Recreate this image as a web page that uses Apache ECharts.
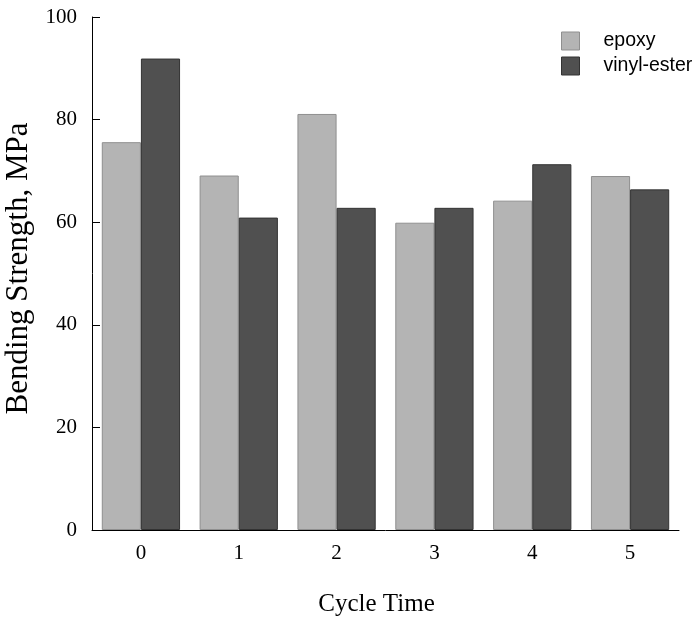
<!DOCTYPE html>
<html>
<head>
<meta charset="utf-8">
<script src="https://cdn.jsdelivr.net/npm/echarts@6/dist/echarts.min.js"></script>
<style>html,body{margin:0;padding:0;background:#fff}#c{width:694px;height:621px}</style>
</head>
<body>
<div id="c"></div>
<script>
const categories = ['0', '1', '2', '3', '4', '5'];
const epoxy = [75.6, 69.1, 81.1, 59.9, 64.2, 69.0];
const vinylEster = [91.9, 60.9, 62.8, 62.8, 71.3, 66.4];
const yTicks = { min: 0, max: 100, interval: 20 };

const serif = '"Liberation Serif", "Times New Roman", serif';
const chart = echarts.init(document.getElementById('c'), null, { renderer: 'canvas' });
chart.setOption({
  animation: false,
  backgroundColor: '#fff',
  grid: { left: 92, right: 15, top: 17, bottom: 91, containLabel: false, outerBoundsMode: 'none' },
  legend: {
    orient: 'vertical',
    left: 556,
    top: 26,
    padding: 5,
    itemWidth: 18,
    itemHeight: 18,
    itemGap: 5,
    icon: 'rect',
    itemStyle: { borderWidth: 1 },
    textStyle: { fontFamily: '"Liberation Sans", Arial, sans-serif', fontSize: 19.5, color: '#000', padding: [0, 0, 0, 19], lineHeight: 18, height: 18 },
    data: ['epoxy', 'vinyl-ester']
  },
  xAxis: {
    type: 'category',
    data: categories,
    name: 'Cycle Time',
    nameLocation: 'middle',
    nameGap: 62,
    nameTextStyle: { fontFamily: serif, fontSize: 25, color: '#000', padding: [0, 18, 0, 0] },
    axisLine: { lineStyle: { color: '#000', width: 1 } },
    axisTick: { inside: true, length: 8, lineStyle: { color: '#000' } },
    axisLabel: { fontFamily: serif, fontSize: 21, color: '#000', margin: 13 },
    splitLine: { show: false }
  },
  yAxis: {
    type: 'value',
    min: yTicks.min,
    max: yTicks.max,
    interval: yTicks.interval,
    name: 'Bending Strength, MPa',
    nameLocation: 'middle',
    nameGap: 55,
    nameTextStyle: { fontFamily: serif, fontSize: 31, color: '#000', padding: [0, 0, 0, 10] },
    axisLine: { show: true, lineStyle: { color: '#000', width: 1 } },
    axisTick: { show: true, inside: true, length: 8, lineStyle: { color: '#000' } },
    axisLabel: { fontFamily: serif, fontSize: 21, color: '#000', margin: 15 },
    splitLine: { show: false }
  },
  series: [
    {
      name: 'epoxy',
      type: 'bar',
      data: epoxy,
      barGap: '0%',
      barCategoryGap: '20%',
      itemStyle: { color: '#b4b4b4', borderColor: '#8f8f8f', borderWidth: 1 }
    },
    {
      name: 'vinyl-ester',
      type: 'bar',
      data: vinylEster,
      barGap: '0%',
      barCategoryGap: '20%',
      itemStyle: { color: '#505050', borderColor: '#333', borderWidth: 1 }
    }
  ]
});
</script>
</body>
</html>
